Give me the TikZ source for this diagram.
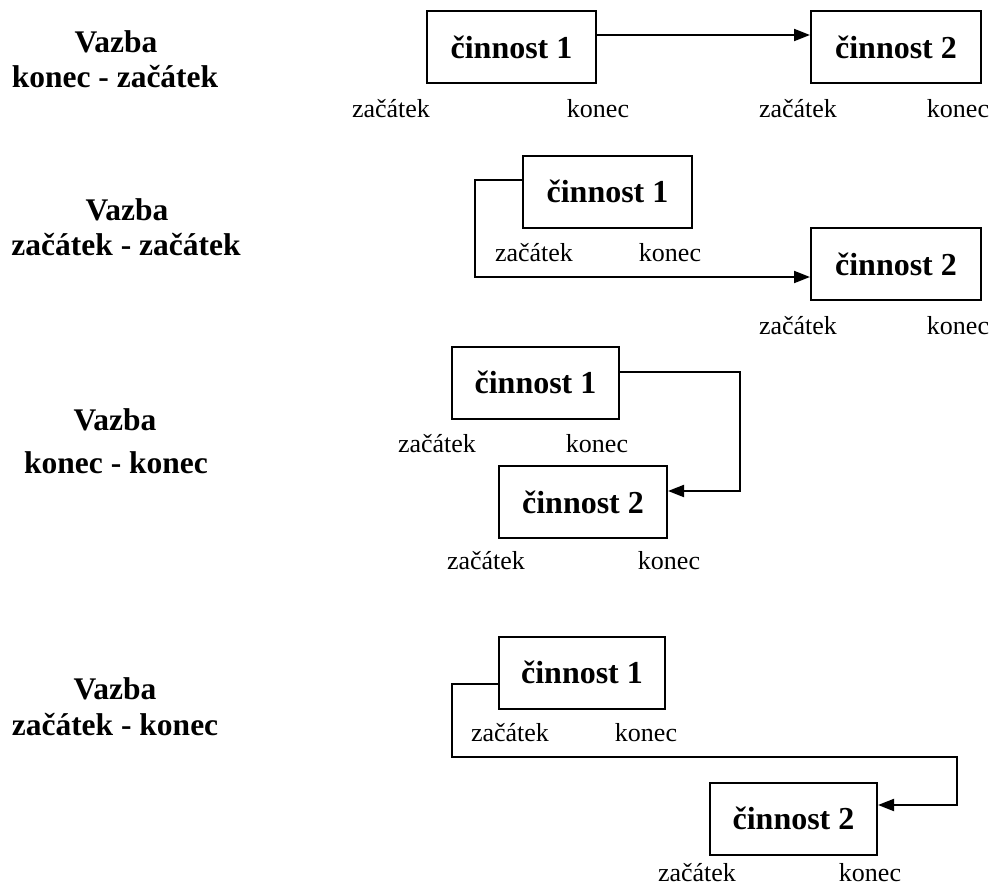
\documentclass[tikz,border=0pt]{standalone}
\usepackage{fontspec}
\setmainfont{Liberation Serif}
\usetikzlibrary{arrows.meta}

\tikzset{
  act/.style={draw, line width=2pt, minimum height=72pt, inner sep=0pt,
    font=\fontsize{32}{36}\selectfont\bfseries},
  lab/.style={anchor=base, inner sep=0pt, font=\fontsize{26}{30}\selectfont},
  kind/.style={anchor=base, inner sep=0pt, font=\fontsize{31.5}{36}\selectfont\bfseries},
  conn/.style={line width=2pt, -{Triangle[length=16pt,width=12pt]}},
}

\begin{document}
\begin{tikzpicture}[x=1pt,y=-1pt]
\useasboundingbox (0,0) rectangle (991,886);

% --- finish-to-start ---
\node[kind] (t1a) at (116,52) {Vazba};
\node[kind] (t1b) at (115,87) {konec - začátek};
\node[act, minimum width=169pt] (a1) at (511.5,47) {činnost 1};
\node[act, minimum width=170pt] (a2) at (896,47) {činnost 2};
\draw[conn] (a1.east |- 0,35) -- (a2.west |- 0,35);
\node[lab] (a1s) at (391,117) {začátek};
\node[lab] (a1e) at (598,117) {konec};
\node[lab] (a2s) at (798,117) {začátek};
\node[lab] (a2e) at (958,117) {konec};

% --- start-to-start ---
\node[kind] (t2a) at (127,220) {Vazba};
\node[kind] (t2b) at (126,255) {začátek - začátek};
\node[act, minimum width=169pt] (b1) at (607.5,191.5) {činnost 1};
\node[act, minimum width=170pt] (b2) at (896,264) {činnost 2};
\coordinate (k2) at (475,277);
\draw[conn] (b1.west |- 0,180) -| (k2) -- (b2.west |- k2);
\node[lab] (b1s) at (534,261) {začátek};
\node[lab] (b1e) at (670,261) {konec};
\node[lab] (b2s) at (798,334) {začátek};
\node[lab] (b2e) at (958,334) {konec};

% --- finish-to-finish ---
\node[kind] (t3a) at (115,430) {Vazba};
\node[kind] (t3b) at (116,473) {konec - konec};
\node[act, minimum width=167pt] (c1) at (535.5,382.5) {činnost 1};
\node[act, minimum width=168pt] (c2) at (583,502) {činnost 2};
\coordinate (k3) at (740,491);
\draw[conn] (c1.east |- 0,372) -| (k3) -- (c2.east |- k3);
\node[lab] (c1s) at (437,452) {začátek};
\node[lab] (c1e) at (597,452) {konec};
\node[lab] (c2s) at (486,569) {začátek};
\node[lab] (c2e) at (669,569) {konec};

% --- start-to-finish ---
\node[kind] (t4a) at (115,699) {Vazba};
\node[kind] (t4b) at (115,735) {začátek - konec};
\node[act, minimum width=166pt] (d1) at (582,672.5) {činnost 1};
\node[act, minimum width=167pt] (d2) at (793.5,818.5) {činnost 2};
\coordinate (k4a) at (452,757);
\coordinate (k4b) at (957,805);
\draw[conn] (d1.west |- 0,684) -| (k4a) -| (k4b) -- (d2.east |- k4b);
\node[lab] (d1s) at (510,741) {začátek};
\node[lab] (d1e) at (646,741) {konec};
\node[lab] (d2s) at (697,881) {začátek};
\node[lab] (d2e) at (870,881) {konec};
\end{tikzpicture}
\end{document}
